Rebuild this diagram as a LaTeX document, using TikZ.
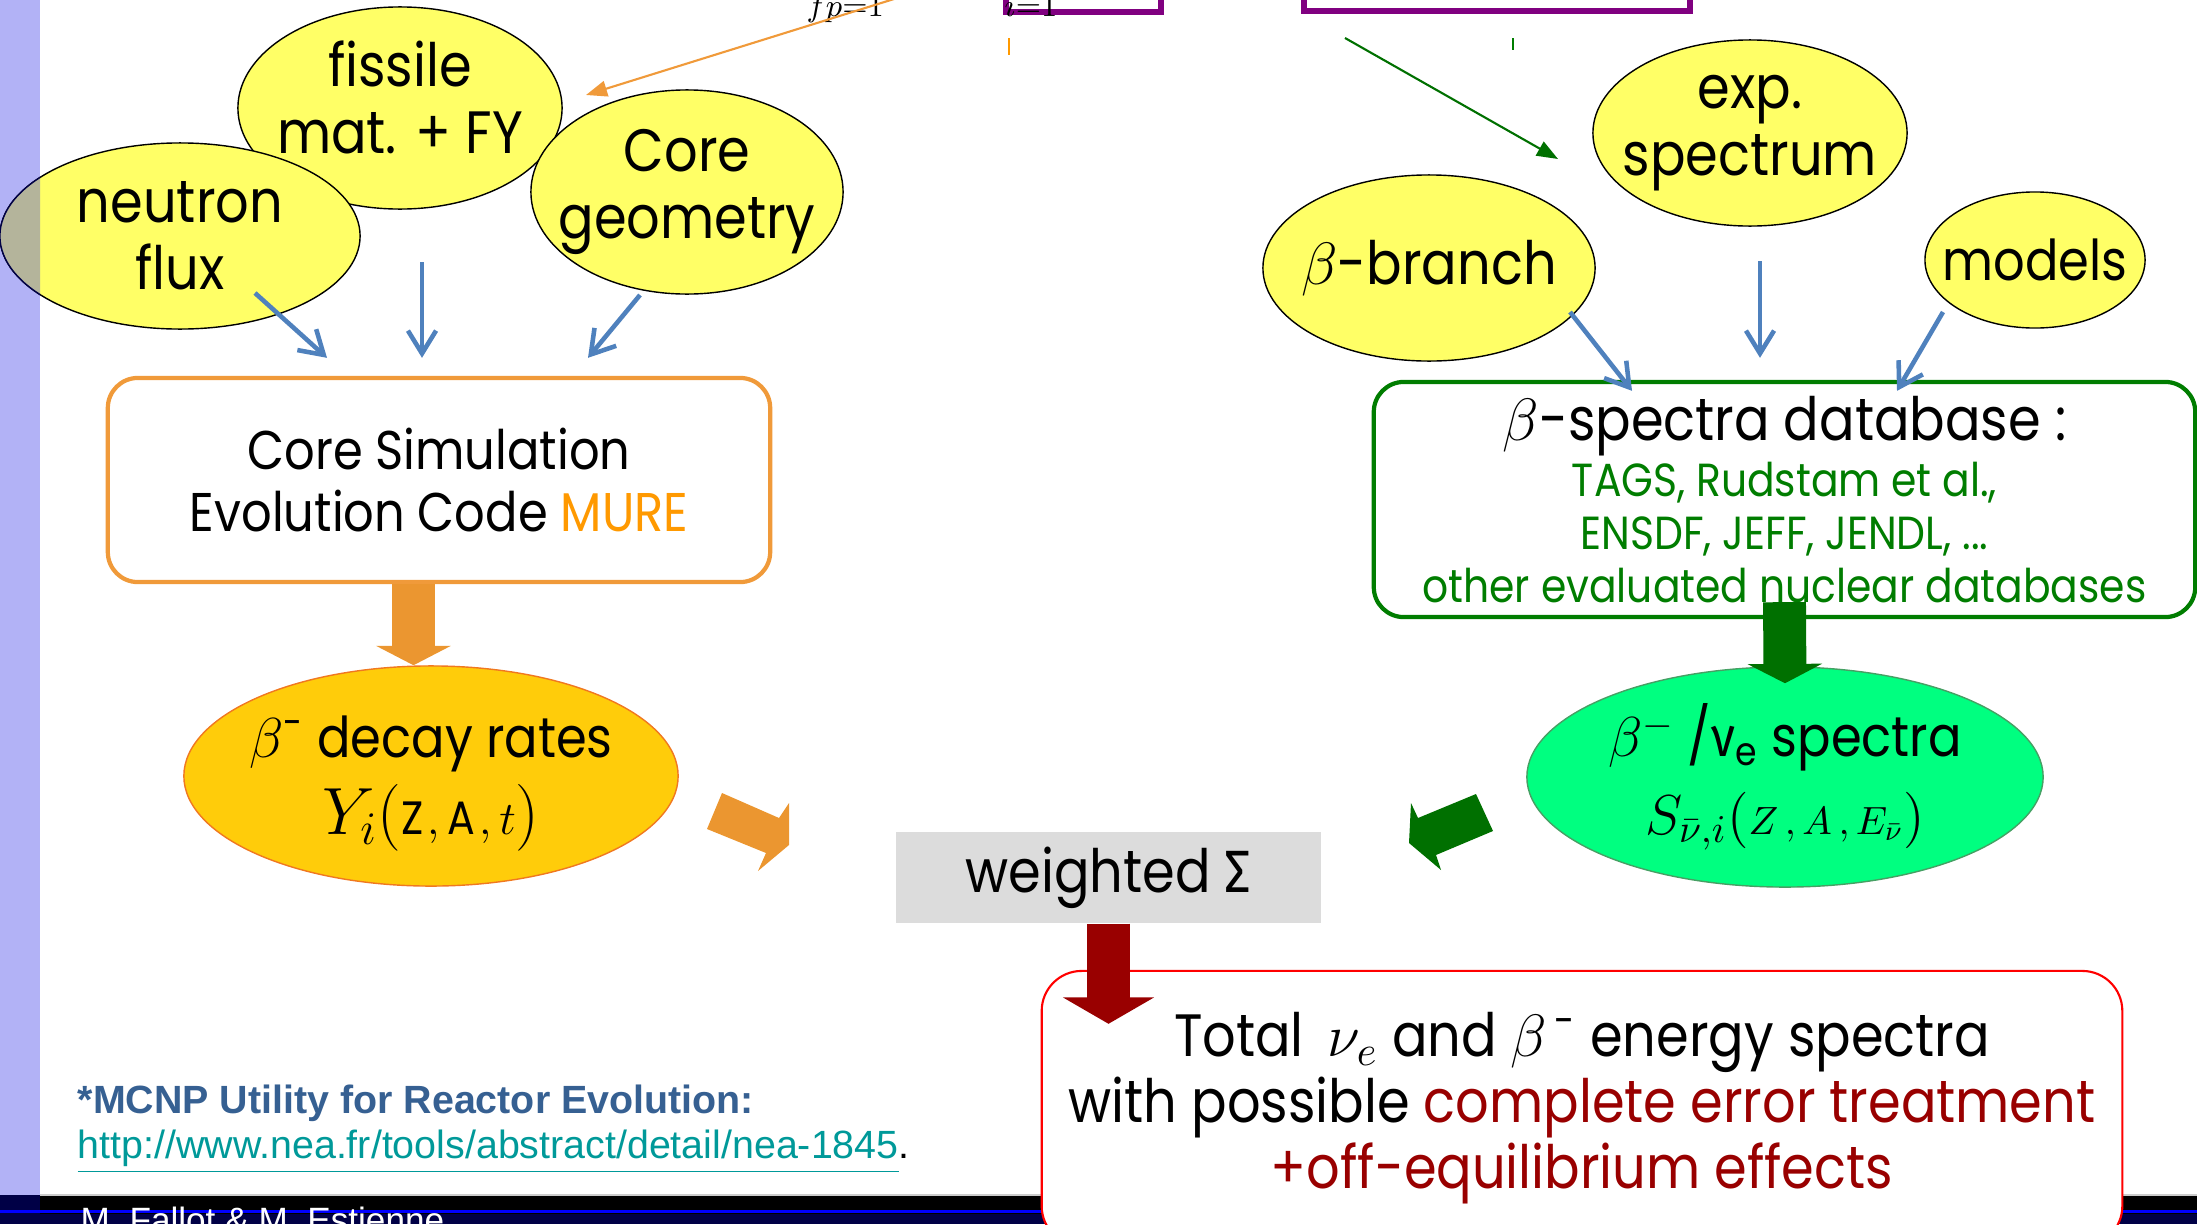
\documentclass[tikz,border=0pt]{standalone}
\usepackage{fix-cm}
\usepackage{fontspec}
\setmainfont[FakeStretch=0.88]{Poppins}
\newfontfamily\arialfont{Liberation Sans}
\newfontfamily\grkfont[FakeStretch=0.88]{Fira Sans}
\usetikzlibrary{shapes.geometric, arrows.meta}

\definecolor{inputyellow}{RGB}{255,255,102}
\definecolor{ratesgold}{RGB}{255,204,10}
\definecolor{ratesrim}{RGB}{240,120,32}
\definecolor{specgreen}{RGB}{0,255,128}
\definecolor{specrim}{RGB}{70,160,100}
\definecolor{mureorange}{RGB}{240,154,58}
\definecolor{murename}{RGB}{255,153,0}
\definecolor{blockorange}{RGB}{235,150,48}
\definecolor{dbgreen}{RGB}{0,125,0}
\definecolor{blockgreen}{RGB}{0,112,0}
\definecolor{sumred}{RGB}{153,0,0}
\definecolor{sumgray}{RGB}{220,220,220}
\definecolor{flowblue}{RGB}{79,129,189}
\definecolor{slidepurple}{RGB}{128,0,128}
\definecolor{barlavender}{RGB}{178,178,246}
\definecolor{baroverlap}{RGB}{180,180,155}
\definecolor{notenavy}{RGB}{54,96,146}
\definecolor{linkteal}{RGB}{0,153,153}
\definecolor{footnavy}{RGB}{0,0,70}

\begin{document}
\begin{tikzpicture}[
        x=0.01cm, y=-0.01cm,
        inputn/.style={ellipse, draw, thin, fill=inputyellow, inner xsep=-12pt, inner ysep=-4pt,
            align=center, font=\fontsize{17}{19}\selectfont},
        ratesn/.style={ellipse, draw=ratesrim, fill=ratesgold, inner xsep=-12pt, inner ysep=-4pt,
            align=center, font=\fontsize{16}{22}\selectfont},
        specn/.style={ellipse, draw=specrim, fill=specgreen, inner xsep=-12pt, inner ysep=-4pt,
            align=center, font=\fontsize{16}{22}\selectfont},
        boxn/.style={rectangle, rounded corners=0.3cm, fill=white, align=center, inner sep=0pt},
        flow/.style={draw=flowblue, line width=1.3pt, -{Straight Barb[length=6.5pt, width=8pt]}},
        thinarrow/.style={line width=0.6pt, -{Triangle[length=6pt, width=4.5pt]}},
        blockarrow/.style={line width=12.2pt, -{Triangle[length=5.5pt, width=21pt]}},
    ]
    \useasboundingbox (0,0) rectangle (2197,1224);
    \clip (0,0) rectangle (2197,1224);

    % slide background strips
    \fill[barlavender] (0,0) rectangle (40,1195);
    \fill[black] (0,1195) rectangle (2197,1224);
    \fill[footnavy] (0,1214) rectangle (2197,1224);
    \fill[footnavy] (0,1195) rectangle (40,1224);
    \fill[blue] (0,1210) rectangle (2197,1213);
    \draw[gray!40] (40,1195) -- (2197,1195);
    \node[anchor=north west, inner sep=0pt, text=white, font=\arialfont\fontsize{10}{12}\selectfont]
        (authors) at (80,1206) {M. Fallot \& M. Estienne};

    % cut pieces of the slide above
    \draw[slidepurple, line width=1.7pt] (1006,-30) -- (1006,12) -- (1161,12) -- (1161,-30);
    \draw[slidepurple, line width=1.9pt] (1304,-30) -- (1304,11) -- (1690,11) -- (1690,-30);
    \node[anchor=base west, inner sep=0pt, font=\fontsize{9}{10}\selectfont] (ione) at (1004,16) {$i{=}1$};
    \node[anchor=base west, inner sep=0pt, font=\fontsize{9}{10}\selectfont] (fpone) at (806,16) {$fp{=}1$};
    \draw[murename, line width=0.6pt] (1009,38) -- (1009,55);
    \draw[dbgreen, line width=0.6pt] (1513,38) -- (1513,50);

    % inputs of the core simulation
    \node[inputn, minimum width=3.24cm, minimum height=2.02cm] (fissile) at (400,108) {fissile\\mat. + FY\\[-13pt]};
    \node[inputn, minimum width=3.12cm, minimum height=2.04cm] (geometry) at (687,192) {Core\\geometry};
    \node[inputn, minimum width=3.60cm, minimum height=1.86cm] (flux) at (180,236) {neutron\\flux};
    \begin{scope}
        \clip (0,0) rectangle (40,1195);
        \filldraw[fill=baroverlap, draw=footnavy, thin] (flux.center) ellipse [x radius=1.8cm, y radius=0.93cm];
    \end{scope}

    % inputs of the database
    \node[inputn, minimum width=3.14cm, minimum height=1.86cm] (expspec) at (1750,133) {exp.\\spectrum};
    \node[inputn, minimum width=3.32cm, minimum height=1.86cm] (branch) at (1429,268) {$\beta$-branch};
    \node[inputn, minimum width=2.20cm, minimum height=1.36cm, font=\fontsize{16}{18}\selectfont] (models) at (2035,260) {models};

    \node[boxn, draw=mureorange, line width=1.2pt, minimum width=6.62cm, minimum height=2.04cm,
        font=\fontsize{15.5}{17.5}\selectfont] (mure) at (439,480)
        {Core Simulation\\Evolution Code \textcolor{murename}{MURE}};
    \node[boxn, draw=dbgreen, line width=1.2pt, minimum width=8.21cm, minimum height=2.35cm,
        font=\fontsize{13.2}{15}\selectfont, text=dbgreen] (db) at (1784.5,499.5)
        {\textcolor{black}{\fontsize{17}{19}\selectfont $\beta$-spectra database :}\\[1pt]
         TAGS, Rudstam et al.,\\ENSDF, JEFF, JENDL, ...\\other evaluated nuclear databases};

    \node[ratesn, minimum width=4.94cm, minimum height=2.20cm] (rates) at (431,776)
        {\\[-6pt]$\beta$\textsuperscript{-} decay rates\\
         {\fontsize{19}{22}\selectfont$Y_i\Big({\scriptstyle \mathrm{Z},\,\mathrm{A},\,t}\Big)$}};
    \node[specn, minimum width=5.16cm, minimum height=2.20cm] (spectra) at (1785,777)
        {$\beta^{-}$ /{\grkfont ν}\textsubscript{e} spectra\\$S_{\bar{\nu},i}\Big({\scriptstyle Z\,,\,A\,,\,E_{\bar{\nu}}}\Big)$};

    \node[rectangle, fill=sumgray, minimum width=4.25cm, minimum height=0.91cm,
        font=\fontsize{17}{19}\selectfont] (sum) at (1108.5,877.5) {weighted {\grkfont Σ}};

    \node[boxn, draw=red, line width=0.6pt, rounded corners=0.4cm, minimum width=10.80cm, minimum height=2.75cm,
        font=\fontsize{17}{18.8}\selectfont] (total) at (1582,1108.5)
        {Total \,$\nu_e$ and $\beta$\textsuperscript{\,-} energy spectra\\
         with possible \textcolor{sumred}{complete error treatment}\\
         \textcolor{sumred}{+off-equilibrium effects}};

    % footnote
    \node[anchor=west, inner sep=0pt, text=notenavy, font=\arialfont\bfseries\fontsize{11.2}{13}\selectfont]
        (mcnp) at (77,1103) {*MCNP Utility for Reactor Evolution:};
    \node[anchor=west, inner sep=0pt, font=\arialfont\fontsize{11.2}{13}\selectfont]
        (url) at (77,1152) {\textcolor{linkteal}{\underline{http://www.nea.fr/tools/abstract/detail/nea-1845}}.};

    % thin arrows from the cut part
    \coordinate (otail) at (955,-20);
    \coordinate (ohead) at (586,95);
    \draw[thinarrow, mureorange] (otail) -- (ohead);
    \coordinate (gtail) at (1345,38);
    \coordinate (ghead) at (1558,159);
    \draw[thinarrow, blockgreen] (gtail) -- (ghead);

    % blue arrows
    \draw[flow] ([shift={(75,57)}]flux.center) -- ([shift={(-112,-18)}]mure.north);
    \draw[flow] ([shift={(22,154)}]fissile.center) -- ([shift={(-17,-18)}]mure.north);
    \draw[flow] ([shift={(-47,103)}]geometry.center) -- ([shift={(149,-18)}]mure.north);
    \draw[flow] ([shift={(141,44)}]branch.center) -- ([shift={(-152.5,11)}]db.north);
    \draw[flow] ([shift={(10,128)}]expspec.center) -- ([shift={(-24.5,-22)}]db.north);
    \draw[flow] ([shift={(-92,52)}]models.center) -- ([shift={(112.5,11)}]db.north);

    % block arrows
    \draw[blockarrow, blockorange] ([xshift=-0.255cm]mure.south) -- ([xshift=-0.255cm]mure.south |- rates.north);
    \draw[blockarrow, blockgreen] ([yshift=0.17cm]db.south) -- ([yshift=-0.17cm]spectra.north);
    \draw[blockarrow, sumred, line width=12.5pt, -{Triangle[length=7.5pt, width=25.6pt]}]
        (sum.south) -- ([yshift=-1.0cm]sum.south);
    \fill[blockorange] (722,793) -- (779,818) -- (789,803) -- (789,845) -- (758,871) -- (766,853) -- (707,829) -- cycle;
    \fill[blockgreen] (1476,794) -- (1493,831) -- (1436,855) -- (1441,870) -- (1409,843) -- (1411,803) -- (1418,818) -- cycle;
\end{tikzpicture}
\end{document}
